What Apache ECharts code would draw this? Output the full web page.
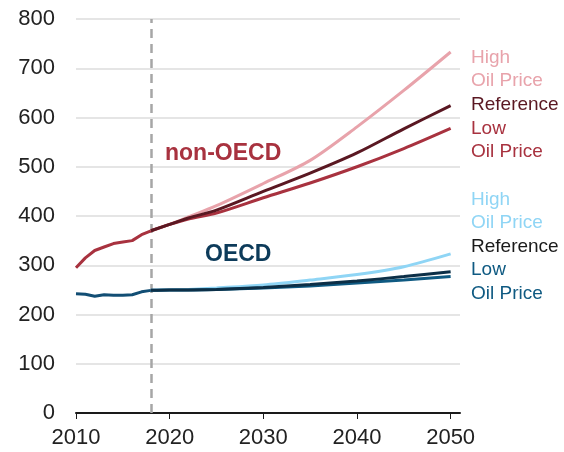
<!DOCTYPE html>
<html><head><meta charset="utf-8">
<script src="https://cdn.jsdelivr.net/npm/echarts@6/dist/echarts.min.js"></script>
<style>html,body{margin:0;padding:0;background:#fff}#c{width:564px;height:452px}</style>
</head><body><div id="c"></div>
<script>
const histYears = [2010,2011,2012,2013,2014,2015,2016,2017,2018];
const nonOecdHist = [295,315,330,337,344,347,350,362,370];
const oecdHist = [242,241,237,240,239,239,240,246,249];
const projYears = [2018,2020,2022,2025,2030,2035,2040,2045,2050];
const nonOecdHigh = [370,383,398,421,466,513,581,655,733];
const nonOecdRef  = [370,383,396,412,450,487,528,577,624];
const nonOecdLow  = [370,383,394,406,437,467,500,537,578];
const oecdHigh = [249,250,251,254,260,270,281,297,323];
const oecdRef  = [249,250,250,251,255,261,268,277,287];
const oecdLow  = [249,250,250,251,254,258,264,270,277];
const xTicks = [2010,2020,2030,2040,2050];
const nonOecdLabels = [['High','#e8a3ab'],['Oil Price','#e8a3ab'],['Reference','#5a1822'],['Low','#a8323f'],['Oil Price','#a8323f']];
const oecdLabels = [['High','#8fd5f5'],['Oil Price','#8fd5f5'],['Reference','#1a1a1a'],['Low','#0f5a82'],['Oil Price','#0f5a82']];

const pair = (xs, ys) => xs.map((x,i)=>[x, ys[i]]);
const FONT = '"Liberation Sans", Arial, sans-serif';
function line(name, xs, ys, color, smooth, extra){
  return Object.assign({name, type:'line', data:pair(xs,ys), symbol:'none', smooth: smooth,
    lineStyle:{color, width:3}, itemStyle:{color}, z:3}, extra||{});
}
const graphics = [];
nonOecdLabels.forEach((l,i)=>graphics.push({type:'text', left:471, top:48+i*23.6, style:{text:l[0], fill:l[1], font:'19px '+FONT}}));
oecdLabels.forEach((l,i)=>graphics.push({type:'text', left:471, top:190+i*23.5, style:{text:l[0], fill:l[1], font:'19px '+FONT}}));
graphics.push({type:'text', left:165, top:142, style:{text:'non-OECD', fill:'#a8323f', font:'bold 23px '+FONT}});
graphics.push({type:'text', left:205, top:243, style:{text:'OECD', fill:'#0d3b5a', font:'bold 23px '+FONT}});

const chart = echarts.init(document.getElementById('c'), null, {renderer:'canvas'});
chart.setOption({
  animation:false,
  grid:{left:76, right:104, top:19, bottom:39, containLabel:false},
  xAxis:{type:'value', min:2010, max:2051, interval:10,
    axisLine:{show:true, lineStyle:{color:'#1a1a1a', width:2}},
    axisTick:{show:true, length:6, lineStyle:{color:'#1a1a1a', width:1}, customValues:xTicks},
    axisLabel:{color:'#222', fontSize:22, fontFamily:FONT, margin:14, customValues:xTicks,
      formatter: v => String(v)},
    splitLine:{show:false}},
  yAxis:{type:'value', min:0, max:800, interval:100,
    axisLine:{show:false}, axisTick:{show:false},
    axisLabel:{color:'#222', fontSize:22, fontFamily:FONT, margin:21},
    splitLine:{lineStyle:{color:'#dcdcdc', width:1.5}}},
  graphic: graphics,
  series:[
    line('nonOECD hist', histYears, nonOecdHist, '#a8323f', false, {
      markLine:{silent:true, symbol:['none','none'], label:{show:false},
        lineStyle:{color:'#a6a6a6', width:2.5, type:[9,6]}, data:[{xAxis:2018}], z:2}}),
    line('OECD hist', histYears, oecdHist, '#124e74', false),
    line('nonOECD high', projYears, nonOecdHigh, '#e8a3ab', 0.3),
    line('nonOECD low', projYears, nonOecdLow, '#a8323f', 0.3),
    line('nonOECD ref', projYears, nonOecdRef, '#5a1822', 0.3),
    line('OECD high', projYears, oecdHigh, '#8fd5f5', 0.3),
    line('OECD low', projYears, oecdLow, '#0f5a82', 0.3),
    line('OECD ref', projYears, oecdRef, '#0c2f47', 0.3)
  ]
});
</script></body></html>
